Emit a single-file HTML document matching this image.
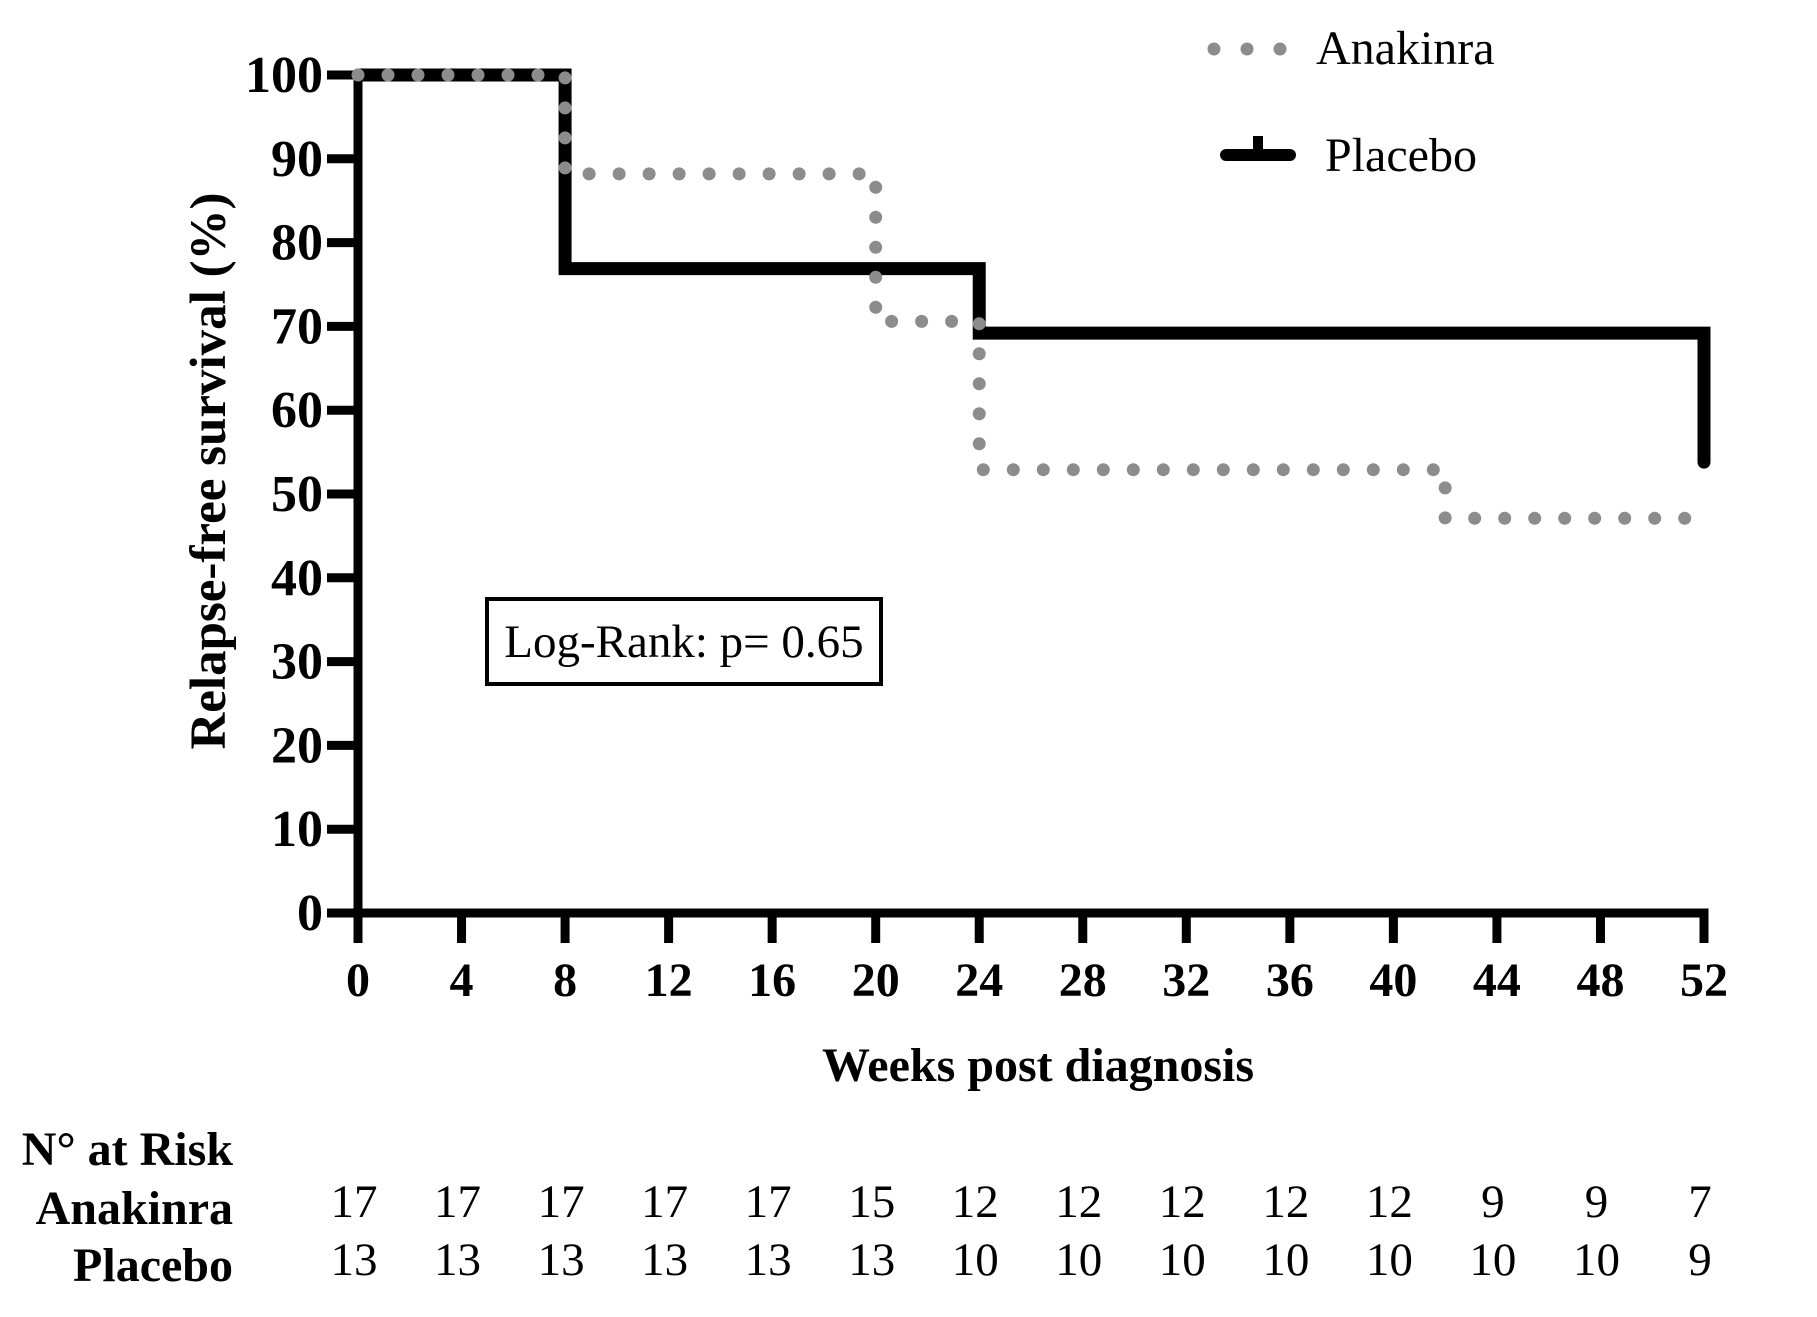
<!DOCTYPE html>
<html><head><meta charset="utf-8"><style>
html,body{margin:0;padding:0;background:#fff;}
svg{display:block;font-family:"Liberation Serif",serif;}
</style></head><body>
<svg id="chart" width="1817" height="1317" viewBox="0 0 1817 1317" xmlns="http://www.w3.org/2000/svg">
<g id="axes"></g>
<g id="series"></g>
<g id="legend">
  <circle cx="1214" cy="49" r="6.5" fill="#8c8c8c"/>
  <circle cx="1247" cy="49" r="6.5" fill="#8c8c8c"/>
  <circle cx="1280" cy="49" r="6.5" fill="#8c8c8c"/>
  <text x="1316" y="64" font-size="48">Anakinra</text>
  <line x1="1226" y1="155" x2="1290" y2="155" stroke="#000" stroke-width="12" stroke-linecap="round"/>
  <rect x="1253" y="136" width="10" height="14" fill="#000"/>
  <text x="1325" y="171" font-size="48">Placebo</text>
</g>
<g>
  <rect x="487" y="599" width="394" height="85" fill="#fff" stroke="#000" stroke-width="4"/>
  <text x="684" y="657" font-size="47" text-anchor="middle">Log-Rank: p= 0.65</text>
</g>
<text transform="translate(225,471) rotate(-90)" font-size="51" font-weight="bold" text-anchor="middle">Relapse-free survival (%)</text>
<text x="1038" y="1081" font-size="48" font-weight="bold" text-anchor="middle">Weeks post diagnosis</text>
<text x="233" y="1165" font-size="48" font-weight="bold" text-anchor="end">N° at Risk</text>
<text x="233" y="1224" font-size="48" font-weight="bold" text-anchor="end">Anakinra</text>
<text x="233" y="1281" font-size="48" font-weight="bold" text-anchor="end">Placebo</text>
<g id="risk"></g>
</svg>
<script>
const xTicks = [0,4,8,12,16,20,24,28,32,36,40,44,48,52];
const yTicks = [0,10,20,30,40,50,60,70,80,90,100];
const anakinraTimes = [0,8,20,24,42,52];
const anakinraSurv = [100,88.2,70.6,52.9,47.1,47.1];
const placeboTimes = [0,8,24,52];
const placeboSurv = [100,76.9,69.2,69.2];
const placeboEndDrop = 53.8;
const riskAnakinra = [17,17,17,17,17,15,12,12,12,12,12,9,9,7];
const riskPlacebo = [13,13,13,13,13,13,10,10,10,10,10,10,10,9];

const NS="http://www.w3.org/2000/svg";
const X = w => 358 + w*(1704-358)/52;
const Y = v => 913 - v*(913-75)/100;
function mk(tag, attrs, parent){const e=document.createElementNS(NS,tag);for(const k in attrs)e.setAttribute(k,attrs[k]);parent.appendChild(e);return e;}
const axes=document.getElementById('axes'), series=document.getElementById('series'), risk=document.getElementById('risk');

let ax=mk('path',{d:`M${X(0)},${Y(100)-4.5} V${Y(0)} H${X(52)+4.5}`,fill:'none',stroke:'#000','stroke-width':9},axes);


yTicks.forEach(v=>{
  const t=mk('line',{x1:X(0)-31,x2:X(0),y1:Y(v),y2:Y(v),stroke:'#000','stroke-width':9},axes);
  
  
  const l=mk('text',{x:X(0)-35,y:Y(v)+17,'font-size':52,'font-weight':'bold','text-anchor':'end'},axes);
  l.textContent=v;
  
  
});
xTicks.forEach(w=>{
  const t=mk('line',{x1:X(w),x2:X(w),y1:Y(0),y2:Y(0)+30,stroke:'#000','stroke-width':9},axes);
  
  
  const l=mk('text',{x:X(w),y:996,'font-size':48,'font-weight':'bold','text-anchor':'middle'},axes);
  l.textContent=w;
  
  
});
function stepPath(ts,ss){
  let d=`M${X(ts[0])},${Y(ss[0])}`;
  for(let i=1;i<ts.length;i++){d+=` H${X(ts[i])} V${Y(ss[i])}`;}
  return d;
}
let pd=stepPath(placeboTimes,placeboSurv)+` V${Y(placeboEndDrop)}`;
const pl=mk('path',{d:pd,fill:'none',stroke:'#000','stroke-width':13,'stroke-linejoin':'miter','stroke-linecap':'round'},series);


const an=mk('path',{d:stepPath(anakinraTimes,anakinraSurv),fill:'none',stroke:'#8c8c8c','stroke-width':13,'stroke-linecap':'round','stroke-dasharray':'0 30'},series);



xTicks.forEach((w,i)=>{
  const a=mk('text',{x:X(w)-4,y:1217,'font-size':47,'text-anchor':'middle'},risk);
  a.textContent=riskAnakinra[i];
  
  
  const p=mk('text',{x:X(w)-4,y:1275,'font-size':47,'text-anchor':'middle'},risk);
  p.textContent=riskPlacebo[i];
  
  
});
</script>
</body></html>
